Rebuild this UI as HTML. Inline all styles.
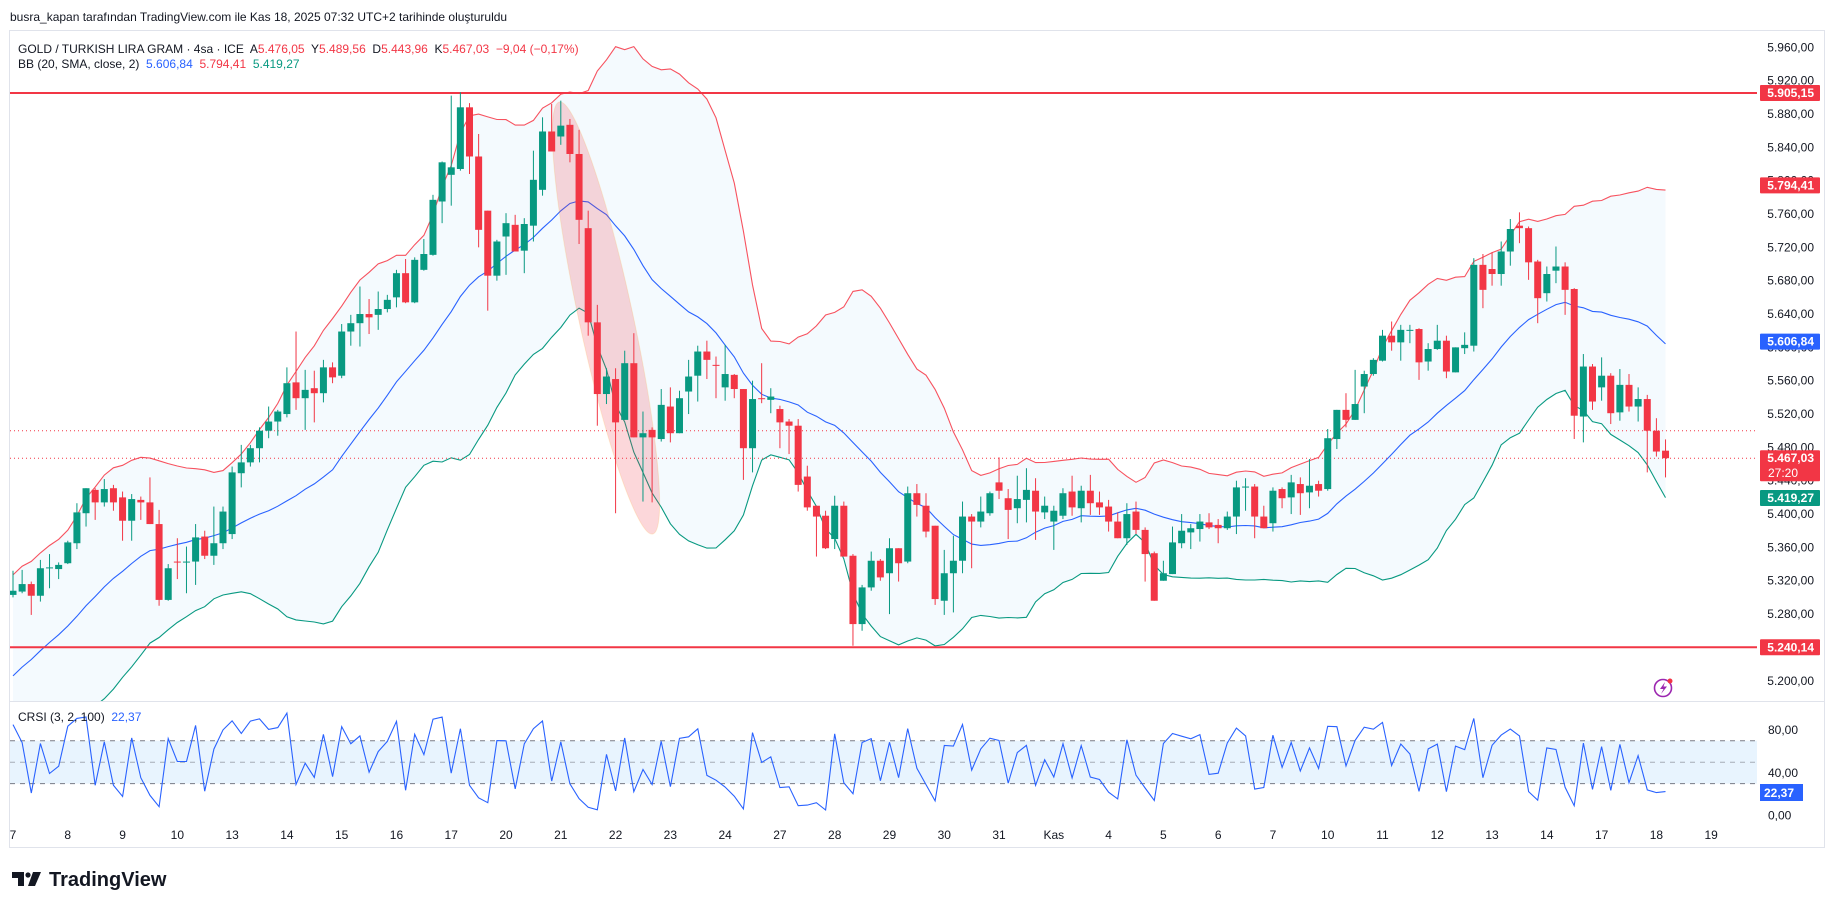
<!DOCTYPE html>
<html><head><meta charset="utf-8">
<style>
html,body{margin:0;padding:0;background:#fff;}
svg{display:block;font-family:"Liberation Sans",sans-serif;}
.pre{white-space:pre;}
</style></head>
<body>
<svg id="chart" width="1835" height="909" viewBox="0 0 1835 909" xmlns="http://www.w3.org/2000/svg">
  <text x="10" y="21" font-size="12" fill="#131722">busra_kapan tarafından TradingView.com ile Kas 18, 2025 07:32 UTC+2 tarihinde oluşturuldu</text>
  <rect x="9.5" y="30.5" width="1815" height="817" fill="#fff" stroke="#e0e3eb"/>
  <defs>
    <clipPath id="pclip"><rect x="10" y="31" width="1747" height="670"/></clipPath>
    <clipPath id="rclip"><rect x="10" y="702" width="1747" height="120"/></clipPath>
  </defs>
  <g id="pricePane" clip-path="url(#pclip)"></g>
  <g id="rsiPane" clip-path="url(#rclip)"></g>
  <g id="axes"></g>
  <line x1="10" y1="701.5" x2="1824" y2="701.5" stroke="#e0e3eb"/>
  <text class="pre" x="18" y="53" font-size="12" fill="#131722">GOLD / TURKISH LIRA GRAM · 4sa · ICE  A<tspan fill="#f23645">5.476,05</tspan>  Y<tspan fill="#f23645">5.489,56</tspan>  D<tspan fill="#f23645">5.443,96</tspan>  K<tspan fill="#f23645">5.467,03</tspan>  <tspan fill="#f23645">−9,04 (−0,17%)</tspan></text>
  <text class="pre" x="18" y="68" font-size="12" fill="#131722">BB (20, SMA, close, 2)  <tspan fill="#2962ff">5.606,84</tspan>  <tspan fill="#f23645">5.794,41</tspan>  <tspan fill="#089981">5.419,27</tspan></text>
  <text class="pre" x="18" y="721" font-size="12" fill="#131722">CRSI (3, 2, 100)  <tspan fill="#2962ff">22,37</tspan></text>
  <g>
    <circle cx="1663" cy="688" r="8.5" fill="none" stroke="#9c27b0" stroke-width="1.6"/>
    <path d="M1665 682 L1660 689 L1663.5 689 L1661 694 L1667 686.5 L1663.5 686.5 Z" fill="#9c27b0"/>
    <circle cx="1670" cy="681" r="2.5" fill="#f23645"/>
  </g>
  <g>
    <path d="M12 872 H24 V886 H18 V878 H12 Z" fill="#131722"/>
    <circle cx="28" cy="875" r="2.6" fill="#131722"/>
    <path d="M33 872 H41 L35 886 H28 Z" fill="#131722"/>
    <text x="49" y="886" font-size="20" font-weight="bold" fill="#131722">TradingView</text>
  </g>
</svg>
<script>
// ---- data ----
const preCloses = [5105,5118,5125,5140,5150,5158,5170,5178,5190,5200,5212,5220,5232,5240,5252,5262,5275,5285,5296];
const opens = [5303,5307,5316,5302,5335,5334,5341,5365,5401,5429,5414,5431,5420,5392,5417,5414,5388,5297,5343,5342,5343,5373,5350,5365,5376,5449,5462,5479,5500,5511,5520,5558,5539,5551,5545,5576,5566,5619,5629,5640,5639,5646,5660,5689,5654,5693,5711,5775,5807,5814,5888,5829,5764,5686,5733,5747,5716,5746,5789,5859,5853,5867,5832,5743,5630,5544,5562,5513,5581,5492,5501,5490,5529,5497,5547,5566,5595,5579,5552,5567,5550,5479,5539,5537,5526,5511,5506,5445,5410,5398,5370,5410,5350,5268,5312,5344,5329,5359,5343,5425,5410,5386,5296,5329,5344,5397,5391,5401,5438,5419,5407,5417,5428,5402,5391,5398,5427,5407,5428,5414,5409,5391,5371,5403,5381,5353,5320,5328,5365,5378,5382,5390,5387,5383,5397,5432,5433,5397,5389,5430,5420,5436,5426,5436,5430,5490,5525,5513,5553,5568,5584,5614,5606,5620,5622,5583,5598,5608,5570,5599,5602,5699,5694,5688,5715,5746,5743,5703,5665,5692,5697,5670,5517,5577,5552,5566,5522,5555,5529,5538,5500,5476.05];
const highs = [5332,5333,5319,5345,5352,5342,5368,5413,5431,5431,5442,5435,5427,5424,5421,5444,5405,5340,5371,5361,5388,5380,5409,5409,5457,5483,5483,5504,5529,5525,5576,5619,5573,5572,5585,5582,5628,5639,5673,5658,5667,5663,5693,5706,5708,5730,5783,5823,5902,5906,5893,5856,5764,5729,5761,5759,5755,5836,5876,5892,5896,5874,5861,5764,5651,5575,5575,5596,5617,5523,5504,5550,5552,5548,5585,5602,5608,5589,5603,5568,5550,5560,5581,5551,5530,5514,5514,5458,5410,5404,5422,5415,5352,5315,5355,5346,5371,5359,5433,5436,5425,5386,5357,5374,5415,5400,5421,5427,5468,5430,5446,5455,5443,5421,5410,5431,5446,5434,5447,5427,5417,5402,5413,5415,5384,5355,5344,5385,5400,5388,5400,5401,5394,5403,5440,5443,5436,5410,5432,5432,5447,5444,5466,5440,5502,5525,5545,5573,5572,5587,5621,5631,5627,5627,5623,5605,5627,5614,5600,5618,5707,5712,5714,5727,5754,5762,5745,5705,5697,5721,5702,5671,5592,5580,5588,5569,5574,5568,5552,5543,5515,5489.56];
const lows = [5300,5305,5279,5295,5311,5322,5340,5358,5385,5393,5409,5404,5368,5368,5393,5388,5290,5296,5322,5305,5315,5346,5339,5358,5370,5432,5457,5462,5491,5494,5516,5525,5501,5510,5534,5557,5563,5602,5601,5616,5621,5642,5648,5653,5653,5692,5710,5749,5770,5812,5808,5720,5644,5680,5687,5715,5689,5727,5782,5835,5843,5822,5724,5614,5506,5532,5401,5513,5492,5415,5414,5487,5486,5497,5520,5535,5562,5539,5536,5539,5441,5450,5533,5521,5479,5472,5427,5404,5349,5358,5358,5349,5242,5260,5308,5320,5280,5319,5341,5397,5372,5291,5279,5282,5329,5335,5384,5398,5418,5370,5389,5390,5369,5394,5357,5394,5398,5390,5399,5399,5379,5371,5363,5376,5319,5296,5320,5328,5359,5358,5367,5382,5365,5381,5376,5404,5371,5383,5379,5407,5400,5399,5407,5421,5428,5478,5504,5513,5521,5566,5583,5596,5584,5605,5561,5572,5597,5563,5570,5592,5595,5647,5674,5674,5698,5725,5681,5629,5655,5677,5639,5490,5486,5525,5536,5508,5512,5523,5511,5450,5469,5443.96];
const closes = [5308,5316,5302,5335,5336,5339,5366,5402,5431,5414,5430,5414,5392,5418,5414,5388,5297,5335,5342,5343,5372,5350,5365,5403,5450,5462,5479,5500,5511,5523,5557,5539,5549,5545,5576,5564,5619,5629,5640,5636,5646,5657,5689,5654,5705,5712,5777,5822,5816,5888,5829,5741,5686,5727,5749,5715,5748,5801,5859,5835,5866,5832,5753,5630,5544,5565,5510,5581,5492,5497,5492,5531,5497,5539,5565,5595,5585,5578,5568,5550,5479,5538,5538,5541,5510,5506,5435,5408,5397,5359,5410,5349,5268,5312,5344,5324,5359,5341,5425,5411,5379,5298,5329,5344,5397,5391,5403,5425,5428,5405,5418,5429,5403,5410,5404,5425,5408,5428,5413,5408,5391,5371,5400,5381,5352,5296,5329,5366,5380,5383,5391,5384,5383,5397,5432,5433,5397,5383,5428,5419,5438,5425,5434,5428,5491,5525,5513,5532,5568,5585,5614,5606,5621,5621,5582,5598,5608,5571,5600,5603,5699,5669,5688,5715,5742,5743,5702,5659,5688,5697,5669,5518,5577,5535,5566,5521,5555,5529,5538,5500,5475,5467.03];
const priceTicks = [5960,5920,5880,5840,5800,5760,5720,5680,5640,5600,5560,5520,5480,5440,5400,5360,5320,5280,5240,5200];
const dayLabels = ["7","8","9","10","13","14","15","16","17","20","21","22","23","24","27","28","29","30","31","Kas","4","5","6","7","10","11","12","13","14","17","18","19"];
const rsiTicks = [80,40,0];
const levelLines = [5905.15,5240.14];
const dottedLevels = [5500,5467.03];

// ---- scales ----
const NS="http://www.w3.org/2000/svg";
const X0=13, STEP=9.13;
function xs(i){return X0+STEP*i;}
function ys(p){return 47.3+(5960-p)*0.8335;}
function yr(v){return 815.7-1.07*v;}
function mk(tag,attrs,parent){const e=document.createElementNS(NS,tag);for(const k in attrs)e.setAttribute(k,attrs[k]);parent.appendChild(e);return e;}
function fmt(v){const s=v.toFixed(2).split('.');return s[0].replace(/\B(?=(\d{3})+(?!\d))/g,'.')+','+s[1];}

const pp=document.getElementById('pricePane');
const rp=document.getElementById('rsiPane');
const ax=document.getElementById('axes');

// ---- bollinger bands ----
const all=preCloses.concat(closes);
const up=[],mid=[],lo=[];
for(let i=0;i<closes.length;i++){
  const j=i+preCloses.length;const w=all.slice(j-19,j+1);
  const m=w.reduce((a,b)=>a+b,0)/w.length;
  const sd=Math.sqrt(w.reduce((a,b)=>a+(b-m)*(b-m),0)/w.length);
  mid.push(m);up.push(m+2*sd);lo.push(m-2*sd);
}
let fd='';
up.forEach((v,i)=>{fd+=(i?'L':'M')+xs(i).toFixed(1)+' '+ys(v).toFixed(1);});
for(let i=lo.length-1;i>=0;i--)fd+='L'+xs(i).toFixed(1)+' '+ys(lo[i]).toFixed(1);
const bf=mk('path',{d:fd+'Z',fill:'rgba(33,150,243,0.05)'},pp);


function line(arr,color,name){
  const d=arr.map((v,i)=>(i?'L':'M')+xs(i).toFixed(1)+' '+ys(v).toFixed(1)).join('');
  const p=mk('path',{d:d,fill:'none',stroke:color,'stroke-width':1.1},pp);
  
  
}
line(up,'#f7525f','bollinger-upper');
line(mid,'#2962ff','bollinger-basis');
line(lo,'#089981','bollinger-lower');

// ---- horizontal levels ----
levelLines.forEach(v=>{
  const l=mk('line',{x1:10,x2:1759,y1:ys(v),y2:ys(v),stroke:'#f23645','stroke-width':2},pp);
  
  
});
dottedLevels.forEach(v=>{
  const l=mk('line',{x1:10,x2:1757,y1:ys(v),y2:ys(v),stroke:'#f23645','stroke-width':1,'stroke-dasharray':'1 3'},pp);
  
  
});

// ---- highlight ellipse ----
const el=mk('ellipse',{cx:606,cy:318,rx:27,ry:221,transform:'rotate(-12.2 606 318)',fill:'rgba(242,54,69,0.2)',stroke:'rgba(255,152,0,0.15)'},pp);



// ---- candles ----
for(let i=0;i<closes.length;i++){
  const o=opens[i],c=closes[i],h=highs[i],l=lows[i];
  const col=c>=o?'#089981':'#f23645';
  const g=mk('g',{},pp);
  
  
  const x=xs(i);
  mk('line',{x1:x,x2:x,y1:ys(h),y2:ys(l),stroke:col,'stroke-width':1},g);
  const t=ys(Math.max(o,c)),b=ys(Math.min(o,c));
  mk('rect',{x:x-3.5,y:t,width:7,height:Math.max(1,b-t),fill:col},g);
}

// ---- CRSI ----
function rsi(src,len){
  const out=[NaN];let ag=0,al=0;
  for(let i=1;i<src.length;i++){
    const ch=src[i]-src[i-1];const g=Math.max(ch,0),l=Math.max(-ch,0);
    if(i<=len){ag+=g/len;al+=l/len;}else{ag=(ag*(len-1)+g)/len;al=(al*(len-1)+l)/len;}
    out.push(al===0?100:100-100/(1+ag/al));
  }
  return out;
}
const streak=[0];
for(let i=1;i<all.length;i++){
  const s=streak[i-1];
  if(all[i]>all[i-1])streak.push(s>0?s+1:1);
  else if(all[i]<all[i-1])streak.push(s<0?s-1:-1);
  else streak.push(0);
}
const r1=rsi(all,3),r2=rsi(streak,2);
const roc=[0];for(let i=1;i<all.length;i++)roc.push(all[i]/all[i-1]-1);
const crsi=[];
for(let i=0;i<closes.length;i++){
  const j=i+preCloses.length;const st=Math.max(1,j-100);
  let cnt=0,n=0;for(let k=st;k<j;k++){n++;if(roc[k]<=roc[j])cnt++;}
  const pr=n?cnt/n*100:50;
  crsi.push((r1[j]+r2[j]+pr)/3);
}
const bandFill=mk('rect',{x:10,y:yr(70),width:1749,height:yr(30)-yr(70),fill:'rgba(33,150,243,0.1)'},rp);


[70,50,30].forEach(v=>{
  const l=mk('line',{x1:10,x2:1759,y1:yr(v),y2:yr(v),stroke:v===50?'rgba(120,123,134,0.6)':'#787b86','stroke-width':1,'stroke-dasharray':'5 5'},rp);
  
  
});
const cd=crsi.map((v,i)=>(i?'L':'M')+xs(i).toFixed(1)+' '+yr(v).toFixed(1)).join('');
const cl=mk('path',{d:cd,fill:'none',stroke:'#2962ff','stroke-width':1.1},rp);



// ---- axes ----
priceTicks.forEach(v=>{
  const t=mk('text',{x:1814,y:ys(v)+4,'font-size':12,fill:'#131722','text-anchor':'end'},ax);
  t.textContent=fmt(v);
  
  
});
rsiTicks.forEach(v=>{
  const t=mk('text',{x:1768,y:yr(v)+4,'font-size':12,fill:'#131722'},ax);
  t.textContent=fmt(v);
  
  
});
dayLabels.forEach((s,d)=>{
  const t=mk('text',{x:xs(d*6),y:839,'font-size':12,fill:'#131722','text-anchor':'middle'},ax);
  t.textContent=s;
  
  
});
function tag(v,color,name,y,extra){
  const g=mk('g',{},ax);
  
  
  const h=extra?31:16;
  const top=y-8;
  mk('rect',{x:1760,y:top,width:60,height:h,fill:color,rx:1},g);
  const t=mk('text',{x:1814,y:top+12,'font-size':12,'font-weight':'bold',fill:'#fff','text-anchor':'end'},g);
  t.textContent=fmt(v);
  if(extra){const t2=mk('text',{x:1768,y:top+27,'font-size':12,fill:'#fff'},g);t2.textContent=extra;}
}
tag(levelLines[0],'#f23645','level-tag-top',ys(levelLines[0]));
tag(5794.41,'#f23645','bb-upper-tag',ys(5794.41));
tag(5606.84,'#2962ff','bb-basis-tag',ys(5606.84));
tag(closes[closes.length-1],'#f23645','last-price-tag',ys(closes[closes.length-1]),'27:20');
tag(5419.27,'#089981','bb-lower-tag',ys(5419.27));
tag(levelLines[1],'#f23645','level-tag-bottom',ys(levelLines[1]));
const rg=mk('g',{},ax);


mk('rect',{x:1760,y:784,width:43,height:17,fill:'#2962ff'},rg);
const rt=mk('text',{x:1764,y:797,'font-size':12,'font-weight':'bold',fill:'#fff'},rg);
rt.textContent='22,37';
</script>
</body></html>
